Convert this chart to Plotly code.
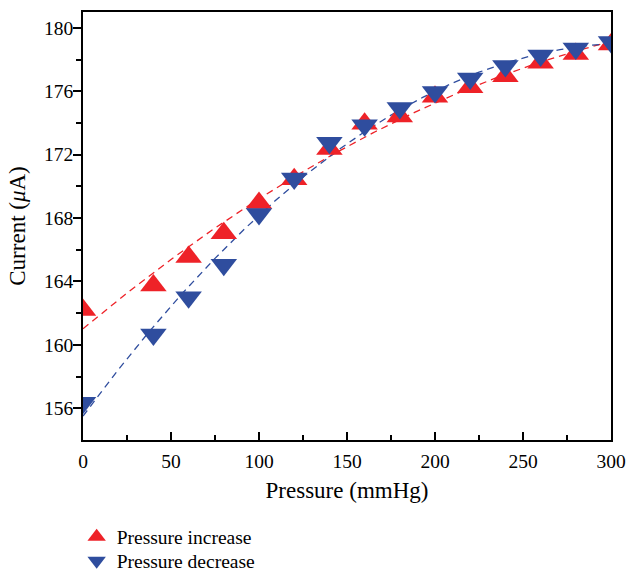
import numpy as np
import plotly.graph_objects as go

pressure = [0, 40, 60, 80, 100, 120, 140, 160, 180, 200, 220, 240, 260, 280, 300]
current_increase = [162.2, 163.75, 165.55, 167.05, 168.95, 170.45, 172.35, 173.95, 174.4,
                    175.65, 176.25, 176.95, 177.8, 178.35, 178.95]
current_decrease = [156.35, 160.65, 163.0, 165.05, 168.25, 170.5, 172.75, 173.85, 174.95,
                    175.95, 176.8, 177.6, 178.25, 178.7, 179.1]

x_ticks = [0, 50, 100, 150, 200, 250, 300]
y_ticks = [156, 160, 164, 168, 172, 176, 180]
y_minor = [158, 162, 166, 170, 174, 178]

RED = "#EE2228"
BLUE = "#2F4D9E"
FONT = "Liberation Serif"
FS = 19.5

xf = np.linspace(0, 300, 301)
fit_inc = np.polyval(np.polyfit(pressure, current_increase, 2), xf)
fit_dec = np.polyval(np.polyfit(pressure, current_decrease, 2), xf)

fig = go.Figure()
fig.add_trace(go.Scatter(x=xf, y=fit_inc, mode="lines", showlegend=False,
                         line=dict(color=RED, width=1.3, dash="7px,5px")))
fig.add_trace(go.Scatter(x=xf, y=fit_dec, mode="lines", showlegend=False,
                         line=dict(color=BLUE, width=1.3, dash="7px,5px")))
fig.add_trace(go.Scatter(x=pressure, y=current_increase, mode="markers", name="Pressure increase",
                         legend="legend",
                         marker=dict(symbol="triangle-up", size=23, color=RED, line=dict(width=0))))
fig.add_trace(go.Scatter(x=pressure, y=current_decrease, mode="markers", name="Pressure decrease",
                         legend="legend2",
                         marker=dict(symbol="triangle-down", size=23, color=BLUE, line=dict(width=0))))

leg_common = dict(x=-0.012, xanchor="left", yanchor="middle", orientation="v",
                  font=dict(family=FONT, size=FS, color="black"), bgcolor="rgba(0,0,0,0)",
                  borderwidth=0)
fig.update_layout(
    width=627, height=571,
    margin=dict(l=83, r=16, t=12, b=131, autoexpand=False),
    plot_bgcolor="white", paper_bgcolor="white",
    font=dict(family=FONT, size=FS, color="black"),
    legend=dict(y=-0.2266, **leg_common),
    legend2=dict(y=-0.2827, **leg_common),
)
fig.update_xaxes(range=[0, 300], tickvals=x_ticks, ticks="inside", ticklen=8, tickwidth=1.5,
                 tickcolor="black", showline=True, linecolor="black", linewidth=1.5, mirror=True,
                 showgrid=False, zeroline=False, automargin=False, ticklabelstandoff=3,
                 minor=dict(tickvals=[25, 75, 125, 175, 225, 275], ticks="inside", ticklen=5,
                            tickwidth=1.5, tickcolor="black"),
                 title=dict(text="Pressure (mmHg)", standoff=11),
                 tickfont=dict(size=FS))
fig.update_yaxes(range=[154, 181], tickvals=y_ticks, ticks="outside", ticklen=8, tickwidth=1.5,
                 tickcolor="black", showline=True, linecolor="black", linewidth=1.5, mirror=True,
                 showgrid=False, zeroline=False, automargin=False, ticklabelstandoff=-4,
                 minor=dict(tickvals=y_minor, ticks="outside", ticklen=5,
                            tickwidth=1.5, tickcolor="black"),
                 title=dict(text="Current (<i>μ</i>A)", standoff=12),
                 tickfont=dict(size=FS))

fig.write_html("out.html", config={"displayModeBar": False},
               post_script="document.body.style.margin='0';document.body.style.overflow='hidden';")
